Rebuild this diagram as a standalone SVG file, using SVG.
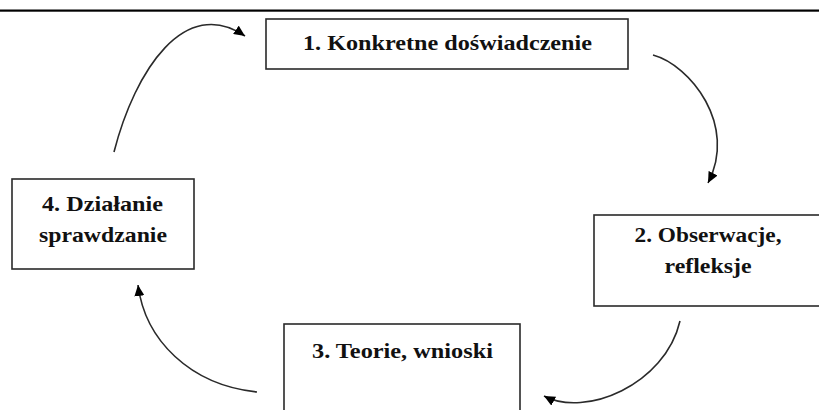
<svg xmlns="http://www.w3.org/2000/svg" width="819" height="410" viewBox="0 0 819 410">
  <style>
    .box { fill: #ffffff; stroke: #2a2a2a; stroke-width: 1.6; }
    .lbl { font-family: "Liberation Serif", "Times New Roman", serif; font-weight: bold; font-size: 21px; fill: #111; text-anchor: middle; }
    .conn { fill: none; stroke: #2a2a2a; stroke-width: 1.6; marker-end: url(#arrow); }
  </style>
  <defs>
    <marker id="arrow" markerUnits="userSpaceOnUse" markerWidth="12" markerHeight="10" refX="11" refY="5" orient="auto">
      <path d="M0,0 L11,5 L0,10 z" fill="#000"/>
    </marker>
  </defs>
  <rect x="0" y="0" width="819" height="410" fill="#ffffff"/>
  <rect x="0" y="9.5" width="819" height="2.2" fill="#000"/>

  <g id="node1">
    <rect class="box" x="266" y="19" width="362" height="50"/>
    <text class="lbl" x="447.5" y="50" textLength="289" lengthAdjust="spacingAndGlyphs">1. Konkretne doświadczenie</text>
  </g>
  <g id="node2">
    <rect class="box" x="594" y="215" width="232" height="91"/>
    <text class="lbl" x="708" y="242" textLength="147" lengthAdjust="spacingAndGlyphs">2. Obserwacje,</text>
    <text class="lbl" x="708" y="273" textLength="87" lengthAdjust="spacingAndGlyphs">refleksje</text>
  </g>
  <g id="node3">
    <rect class="box" x="284" y="324" width="236" height="100"/>
    <text class="lbl" x="402.5" y="358" textLength="181" lengthAdjust="spacingAndGlyphs">3. Teorie, wnioski</text>
  </g>
  <g id="node4">
    <rect class="box" x="12" y="179" width="182" height="90"/>
    <text class="lbl" x="102.5" y="211" textLength="121" lengthAdjust="spacingAndGlyphs">4. Działanie</text>
    <text class="lbl" x="103" y="242" textLength="128" lengthAdjust="spacingAndGlyphs">sprawdzanie</text>
  </g>

  <g id="connectors">
    <path class="conn" d="M114,152 C135,70 185,-5 245,36"/>
    <path class="conn" d="M653,55 C690,65 738,125 708,183"/>
    <path class="conn" d="M680,321 C665,385 585,418 544,396"/>
    <path class="conn" d="M257,392 C190,385 145,340 138,285"/>
  </g>
</svg>
